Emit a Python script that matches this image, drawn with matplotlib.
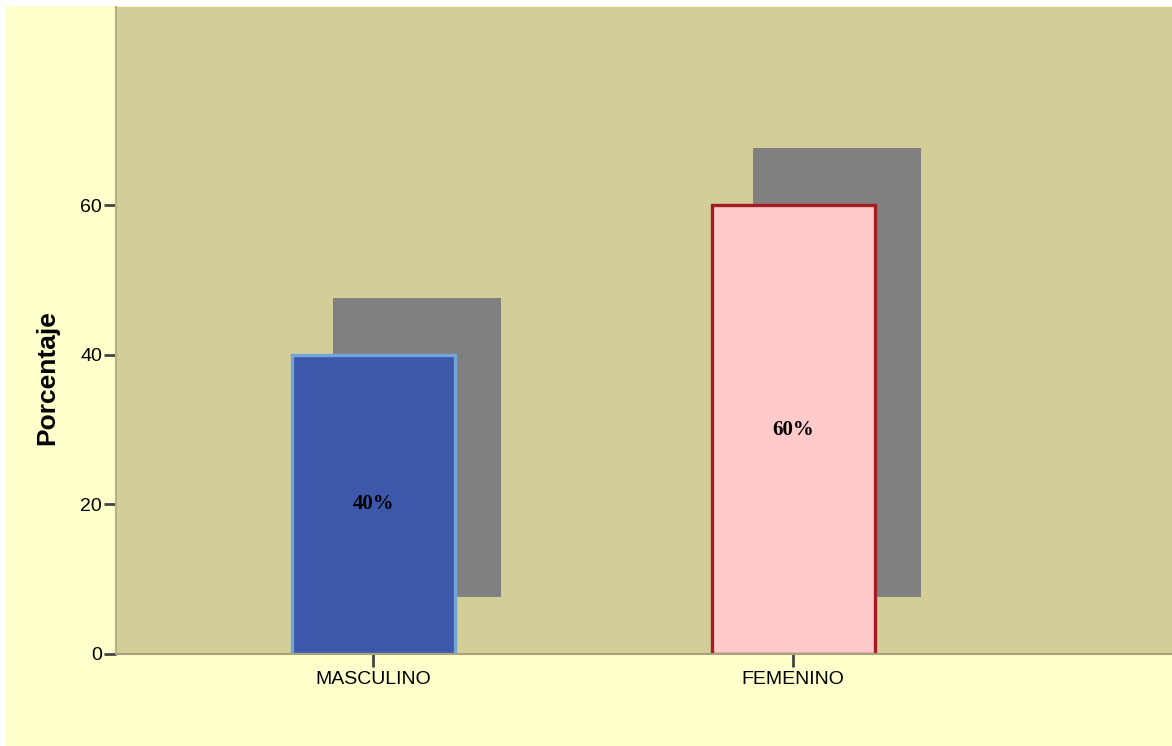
import matplotlib.pyplot as plt
from matplotlib.patches import Rectangle

# Datos de la gráfica de sexo
categorias = ['MASCULINO', 'FEMENINO']
porcentajes = [40, 60]
etiquetas = ['40%', '60%']

colores = ['#3D58AA', '#FFCACA']
bordes = ['#72A3D9', '#A51C24']

fig = plt.figure(figsize=(11.72, 7.46), dpi=100)
fig.patch.set_facecolor('white')
# Fondo amarillo claro del gráfico (con franja blanca arriba y a la izquierda)
fondo = Rectangle((6 / 1172, 0), 1, 1 - 6 / 746, transform=fig.transFigure,
                  facecolor='#FFFFCC', edgecolor='none', zorder=-10)
fig.add_artist(fondo)

ax = fig.add_axes([116 / 1172, 92 / 746, 1056 / 1172, 647 / 746])
ax.set_facecolor('#D3CD97')

x = list(range(len(categorias)))
ancho = 0.388
desp_x, desp_y = 0.104, 7.6

# Sombras grises desplazadas
ax.bar([i + desp_x for i in x], porcentajes, width=0.40, bottom=desp_y,
       color='#808080', edgecolor='none', zorder=1)
# Barras principales
ax.bar(x, porcentajes, width=ancho, color=colores, edgecolor=bordes,
       linewidth=2.4, zorder=2)

for i, (v, t) in enumerate(zip(porcentajes, etiquetas)):
    ax.text(i, v / 2, t, ha='center', va='center', fontsize=15,
            fontweight='bold', family='Liberation Serif', zorder=3)

ax.set_xlim(-0.612, 1.902)
ax.set_ylim(0, 86.5)
ax.set_xticks(x)
ax.set_xticklabels(categorias, family='Liberation Sans', fontsize=14)
ax.set_yticks([0, 20, 40, 60])
ax.set_yticklabels(['0', '20', '40', '60'], family='Liberation Sans', fontsize=14)
ax.tick_params(axis='y', length=9, width=2, color='#444444', pad=1)
ax.tick_params(axis='x', length=9, width=2, color='#444444', pad=3)

ax.set_ylabel('Porcentaje', family='Liberation Sans', fontsize=19,
              fontweight='bold')
ax.yaxis.set_label_coords(-0.054, 0.427)

for lado in ['top', 'right']:
    ax.spines[lado].set_visible(False)
ax.spines['left'].set_color('#B8B282')
ax.spines['bottom'].set_color('#A8A27A')
ax.spines['left'].set_linewidth(1.5)
ax.spines['bottom'].set_linewidth(1.5)

fig.savefig('out.png', dpi=100)
